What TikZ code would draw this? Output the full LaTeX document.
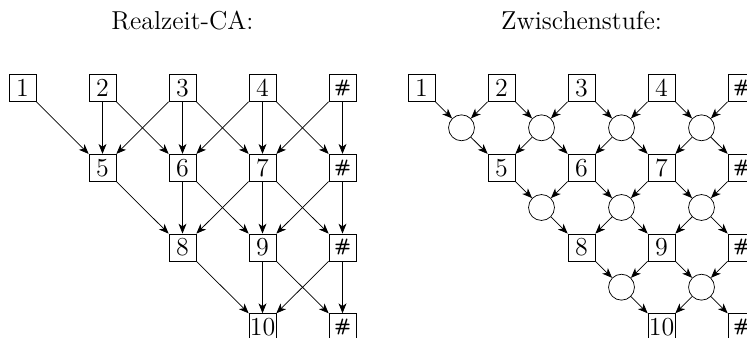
\documentclass[tikz,border=0pt]{standalone}
\usetikzlibrary{arrows.meta}
\newcommand\hs{\textsf{\normalsize\bfseries\#}}
\begin{document}
\begin{tikzpicture}[x=0.5556pt,y=-0.5556pt,
  box/.style={draw,minimum size=15pt,inner sep=0pt,font=\Large},
  hub/.style={draw,circle,minimum size=14.4pt,inner sep=0pt},
  title/.style={font=\Large,inner sep=0pt},
  arr/.style={-{Stealth[length=5.5pt,width=4.4pt,inset=1.6pt]}}
]
\useasboundingbox (0,0) rectangle (747,338);
\clip (0,0) rectangle (747,338);
\node[title] (t1) at (182.5,21) {Realzeit-CA:};
\node[title] (t2) at (581.5,21) {Zwischenstufe:};
% left network
\foreach \r/\c/\t in {0/0/1,0/1/2,0/2/3,0/3/4,0/4/\hs,1/1/5,1/2/6,1/3/7,1/4/\hs,2/2/8,2/3/9,2/4/\hs,3/3/10,3/4/\hs}
  \node[box] (L\r\c) at ({22.5+80*\c},{88+79.7*\r}) {\t};
\foreach \a/\b in {00/11,01/11,01/12,02/11,02/12,02/13,03/12,03/13,03/14,04/13,04/14,
                   11/22,12/22,12/23,13/22,13/23,13/24,14/23,14/24,
                   22/33,23/33,23/34,24/33,24/34}
  \draw[arr] (L\a) -- (L\b);
% right network
\foreach \r/\c/\t in {0/0/1,0/1/2,0/2/3,0/3/4,0/4/\hs,1/1/5,1/2/6,1/3/7,1/4/\hs,2/2/8,2/3/9,2/4/\hs,3/3/10,3/4/\hs}
  \node[box] (R\r\c) at ({421.5+80*\c},{88+79.7*\r}) {\t};
\foreach \r/\c in {0/0,0/1,0/2,0/3,1/1,1/2,1/3,2/2,2/3}
  \node[hub] (C\r\c) at ({461.5+80*\c},{127.8+79.7*\r}) {};
\foreach \a/\b in {00/00,01/00,01/01,02/01,02/02,03/02,03/03,04/03,
                   11/11,12/11,12/12,13/12,13/13,14/13,
                   22/22,23/22,23/23,24/23}
  \draw[arr] (R\a) -- (C\b);
\foreach \a/\b in {00/11,01/11,01/12,02/12,02/13,03/13,03/14,
                   11/22,12/22,12/23,13/23,13/24,
                   22/33,23/33,23/34}
  \draw[arr] (C\a) -- (R\b);
\end{tikzpicture}
\end{document}
